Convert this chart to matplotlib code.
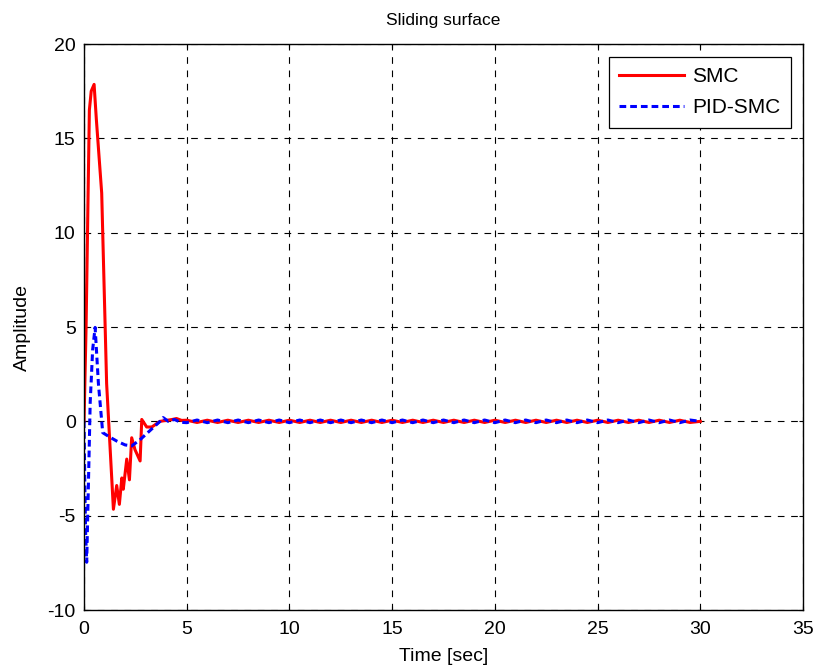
import matplotlib
matplotlib.use("Agg")
import matplotlib.pyplot as plt
import numpy as np

plt.rcParams['font.family'] = ['Liberation Sans', 'DejaVu Sans']
plt.rcParams['axes.unicode_minus'] = False

# SMC series (transient)
smc_t = [0.0, 0.1, 0.26, 0.35, 0.49, 0.6, 0.86, 1.1, 1.43, 1.59, 1.72, 1.84, 1.91, 2.08,
         2.21, 2.32, 2.48, 2.73, 2.81, 3.05, 3.30, 3.70, 4.0, 4.3, 4.5, 4.75]
smc_v = [0.0, 5.0, 16.5, 17.5, 17.86, 16.0, 12.1, 2.0, -4.66, -3.4, -4.4, -3.0, -3.6, -2.0,
         -3.1, -0.87, -1.5, -2.1, 0.1, -0.3, -0.3, 0.0, 0.05, 0.1, 0.15, 0.05]
# PID-SMC series (transient)
pid_t = [0.0, 0.04, 0.08, 0.13, 0.2, 0.3, 0.42, 0.54, 0.7, 0.91, 1.2, 1.6, 2.0, 2.32,
         2.7, 3.1, 3.5, 3.7, 3.85, 4.1, 4.4, 4.7]
pid_v = [0.0, -3.5, -6.0, -7.47, -4.0, 1.0, 3.8, 4.98, 2.0, -0.6, -0.8, -1.05, -1.25, -1.3,
         -1.0, -0.6, -0.2, 0.0, 0.2, 0.0, 0.1, -0.05]

# steady-state chattering (t = 5.0 ... 30.0 every 0.5 s)
ss_t = [5.0, 5.5, 6.0, 6.5, 7.0, 7.5, 8.0, 8.5, 9.0, 9.5, 10.0, 10.5, 11.0, 11.5, 12.0,
        12.5, 13.0, 13.5, 14.0, 14.5, 15.0, 15.5, 16.0, 16.5, 17.0, 17.5, 18.0, 18.5,
        19.0, 19.5, 20.0, 20.5, 21.0, 21.5, 22.0, 22.5, 23.0, 23.5, 24.0, 24.5, 25.0,
        25.5, 26.0, 26.5, 27.0, 27.5, 28.0, 28.5, 29.0, 29.5, 30.0]
smc_ss = [0.06, -0.06, 0.06, -0.06, 0.06, -0.06, 0.06, -0.06, 0.06, -0.06, 0.06, -0.06,
          0.06, -0.06, 0.06, -0.06, 0.06, -0.06, 0.06, -0.06, 0.06, -0.06, 0.06, -0.06,
          0.06, -0.06, 0.06, -0.06, 0.06, -0.06, 0.06, -0.06, 0.06, -0.06, 0.06, -0.06,
          0.06, -0.06, 0.06, -0.06, 0.06, -0.06, 0.06, -0.06, 0.06, -0.06, 0.06, -0.06,
          0.06, -0.06, 0.0]
pid_ss = [-0.07, 0.07, -0.07, 0.07, -0.07, 0.07, -0.07, 0.07, -0.07, 0.07, -0.07, 0.07,
          -0.07, 0.07, -0.07, 0.07, -0.07, 0.07, -0.07, 0.07, -0.07, 0.07, -0.07, 0.07,
          -0.07, 0.07, -0.07, 0.07, -0.07, 0.07, -0.07, 0.07, -0.07, 0.07, -0.07, 0.07,
          -0.07, 0.07, -0.07, 0.07, -0.07, 0.07, -0.07, 0.07, -0.07, 0.07, -0.07, 0.07,
          -0.07, 0.07, 0.0]

xticks = [0, 5, 10, 15, 20, 25, 30, 35]
yticks = [-10, -5, 0, 5, 10, 15, 20]

fig = plt.figure(figsize=(8.19, 6.71), dpi=100)
ax = fig.add_axes([0.1026, 0.0909, 0.8779, 0.8435])

ax.plot(smc_t + ss_t, smc_v + smc_ss, color='red', lw=2.2, label='SMC')
ax.plot(pid_t + ss_t, pid_v + pid_ss, color='blue', lw=2.2, ls=(0, (2.2, 1.3)), label='PID-SMC')

ax.set_xlim(0, 35)
ax.set_ylim(-10, 20)
ax.set_xticks(xticks)
ax.set_yticks(yticks)
ax.grid(True, color='black', ls=(0, (6, 6)), lw=0.8)
ax.tick_params(axis='both', direction='in', labelsize=14, length=3, top=True, right=True)
ax.tick_params(axis='x', pad=8)
ax.tick_params(axis='y', pad=6)
for s in ax.spines.values():
    s.set_linewidth(1.0)
ax.set_xlabel('Time [sec]', fontsize=14, labelpad=7)
ax.set_ylabel('Amplitude', fontsize=14, labelpad=12)
ax.set_title('Sliding surface', fontsize=12.5, pad=14)
leg = ax.legend(loc='upper right', fontsize=15, fancybox=False, edgecolor='black',
                framealpha=1, handlelength=3.1, borderaxespad=0.6,
                labelspacing=0.6, borderpad=0.5, handletextpad=0.4)
leg.get_frame().set_linewidth(0.9)

fig.savefig('out.png', dpi=100)
